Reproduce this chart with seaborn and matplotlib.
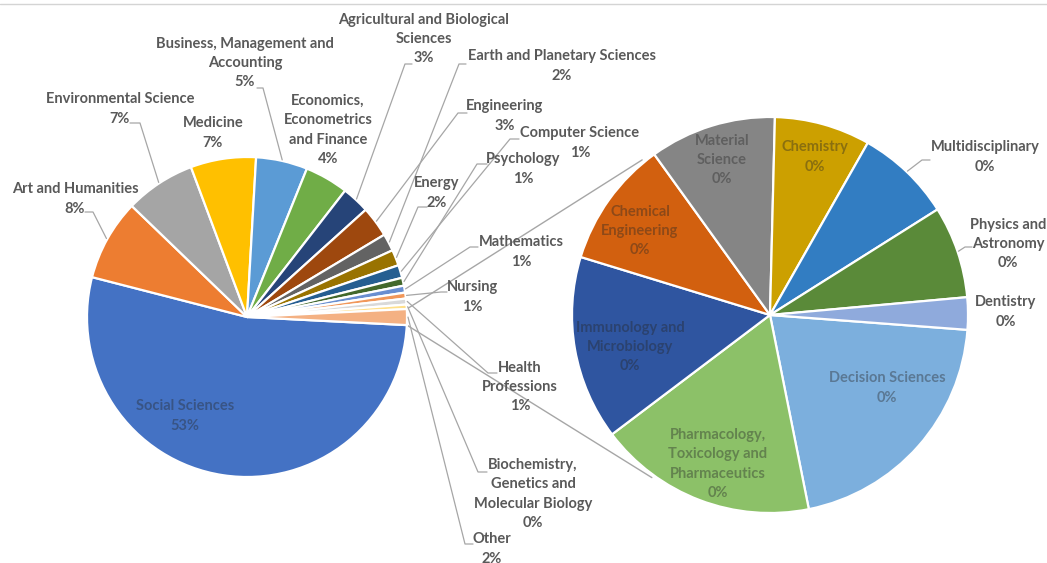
import numpy as np
import matplotlib
matplotlib.use("Agg")
import matplotlib.pyplot as plt
import seaborn as sns
from matplotlib.colors import to_rgb

# ---- data: share of documents (%) by subject area ----
primary_names = [
    "Social Sciences", "Art and Humanities", "Environmental Science", "Medicine",
    "Business, Management and Accounting", "Economics, Econometrics and Finance",
    "Agricultural and Biological Sciences", "Engineering", "Earth and Planetary Sciences",
    "Energy", "Computer Science", "Psychology", "Mathematics", "Nursing",
    "Health Professions", "Biochemistry, Genetics and Molecular Biology",
]
primary_share = [53.2, 8.2, 7.1, 6.6, 5.2, 4.4, 2.8, 3.1, 1.75, 1.6, 1.3, 0.8,
                 0.7, 0.6, 0.6, 0.45]

secondary_names = [
    "Decision Sciences", "Pharmacology, Toxicology and Pharmaceutics",
    "Immunology and Microbiology", "Chemical Engineering", "Material Science",
    "Chemistry", "Multidisciplinary", "Physics and Astronomy", "Dentistry",
]
secondary_share = [0.33, 0.285, 0.24, 0.165, 0.165, 0.125, 0.125, 0.12, 0.042]

other_name = "Other"
other_share = sum(secondary_share)

primary_colors = ["#4472C4", "#ED7D31", "#A5A5A5", "#FFC000", "#5B9BD5", "#70AD47",
                  "#264478", "#9E480E", "#636363", "#997300", "#255E91", "#43682B",
                  "#698ED0", "#F1975A", "#D9D9D9", "#FFE08A"]
other_color = "#F4B183"
secondary_colors = ["#7CAFDD", "#8CC168", "#2F55A0", "#D2600F", "#858585",
                    "#CCA000", "#327DC2", "#5A8A39", "#8FAADC"]

# display wrapping of the category names
wrapped = {
    "Business, Management and Accounting": "Business, Management and\nAccounting",
    "Economics, Econometrics and Finance": "Economics,\nEconometrics\nand Finance",
    "Agricultural and Biological Sciences": "Agricultural and Biological\nSciences",
    "Health Professions": "Health\nProfessions",
    "Biochemistry, Genetics and Molecular Biology": "Biochemistry,\nGenetics and\nMolecular Biology",
    "Pharmacology, Toxicology and Pharmaceutics": "Pharmacology,\nToxicology and\nPharmaceutics",
    "Immunology and Microbiology": "Immunology and\nMicrobiology",
    "Chemical Engineering": "Chemical\nEngineering",
    "Material Science": "Material\nScience",
    "Physics and Astronomy": "Physics and\nAstronomy",
}

# ---- layout (pixel coordinates, y measured from the top) ----
W, H = 1047, 563
C1, R1, START1 = (247, 317), 160, -2.9
C2, R2, START2 = (770, 315), 198, -4.3

# label centre, leader tick (x joined to line, x at text, y) or None, inside?
label_pos = {
    "Social Sciences": ((185, 416), None, True),
    "Art and Humanities": ((75, 199), (93, 85, 212), False),
    "Environmental Science": ((120, 109), (140, 130, 123), False),
    "Medicine": ((213, 133), None, False),
    "Business, Management and Accounting": ((245, 63), (263, 257, 88), False),
    "Economics, Econometrics and Finance": ((328, 130), None, False),
    "Agricultural and Biological Sciences": ((424, 39), (405, 412, 64), False),
    "Engineering": ((505, 116), (458, 467, 113), False),
    "Earth and Planetary Sciences": ((562, 66), (459, 466, 64), False),
    "Energy": ((437, 193), (418, 427, 207), False),
    "Computer Science": ((580, 143), (510, 519, 139), False),
    "Psychology": ((523, 169), (477, 487, 164), False),
    "Mathematics": ((521, 252), (470, 478, 247), False),
    "Nursing": ((472, 297), (441, 447, 292), False),
    "Health Professions": ((520, 387), (488, 497, 373), False),
    "Biochemistry, Genetics and Molecular Biology": ((533, 494), (478, 487, 472), False),
    "Other": ((492, 549), (465, 473, 544), False),
    "Decision Sciences": ((887, 388), None, True),
    "Pharmacology, Toxicology and Pharmaceutics": ((718, 464), None, True),
    "Immunology and Microbiology": ((630, 347), None, True),
    "Chemical Engineering": ((640, 231), None, True),
    "Material Science": ((722, 160), None, True),
    "Chemistry": ((815, 157), None, True),
    "Multidisciplinary": ((985, 157), (922, 930, 160), False),
    "Physics and Astronomy": ((1008, 244), (965, 972, 247), False),
    "Dentistry": ((1006, 312), None, False),
}

TEXT = "#595959"
LINE = "#A6A6A6"

sns.set_theme(style="white")
plt.rcParams["font.family"] = ["Lato", "DejaVu Sans"]

fig = plt.figure(figsize=(W / 100, H / 100), dpi=100)
ax = fig.add_axes([0, 0, 1, 1])


def fy(y):
    return H - y


def polar(c, r, ang):
    a = np.deg2rad(ang)
    return c[0] + r * np.cos(a), fy(c[1]) + r * np.sin(a)


def mix(c, k=0.6, base="#262626"):
    a, b = np.array(to_rgb(c)), np.array(to_rgb(base))
    return tuple(k * a + (1 - k) * b)


total = sum(primary_share) + other_share
pie1_vals = primary_share + [other_share]
pie1_names = primary_names + [other_name]
pie1_cols = sns.color_palette(primary_colors + [other_color])
pie2_cols = sns.color_palette(secondary_colors)

wprops = dict(edgecolor="white", linewidth=1.6)
ax.pie(pie1_vals, center=(C1[0], fy(C1[1])), radius=R1, startangle=START1,
       counterclock=False, colors=pie1_cols, wedgeprops=wprops, normalize=True)
ax.pie(secondary_share, center=(C2[0], fy(C2[1])), radius=R2, startangle=START2,
       counterclock=False, colors=pie2_cols, wedgeprops=wprops, normalize=True)


def mid_angles(vals, start):
    vals = np.asarray(vals, float)
    cum = np.concatenate([[0], np.cumsum(vals)])[:-1]
    s = vals.sum()
    return start - 360 * (cum + vals / 2) / s, start - 360 * cum / s, start - 360 * (cum + vals) / s


mids1, st1, en1 = mid_angles(pie1_vals, START1)
mids2, _, _ = mid_angles(secondary_share, START2)

# series lines joining the "Other" slice to the secondary pie
o_top, o_bot = st1[-1] + 360, en1[-1] + 360
for a1, a2 in [(o_top, 129.5), (o_bot, -126.0)]:
    p = polar(C1, R1, a1)
    q = polar(C2, R2 + 3, a2)
    ax.plot([p[0], q[0]], [p[1], q[1]], color=LINE, lw=1.0, zorder=0.5)


def put_label(name, pct, mid, centre, radius, wedge_col):
    (lx, ly), tick, inside = label_pos[name]
    text = f"{wrapped.get(name, name)}\n{pct}%"
    col = mix(wedge_col) if inside else TEXT
    ax.text(lx, fy(ly), text, ha="center", va="center", fontsize=10.5,
            fontweight="bold", color=col, linespacing=1.47, zorder=5)
    if tick is not None:
        xa, xb, ty = tick
        p = polar(centre, radius + 1, mid)
        ax.plot([p[0], xa, xb], [p[1], fy(ty), fy(ty)], color=LINE, lw=0.9, zorder=4)


for name, v, m, c in zip(pie1_names, pie1_vals, mids1, pie1_cols):
    put_label(name, int(round(v / total * 100)), m, C1, R1, c)
for name, v, m, c in zip(secondary_names, secondary_share, mids2, pie2_cols):
    put_label(name, int(round(v / total * 100)), m, C2, R2, c)

# thin rule along the top edge
ax.plot([0, W], [fy(3.5), fy(3.5)], color="#D4D4D4", lw=1.0)

ax.set_xlim(0, W)
ax.set_ylim(0, H)
ax.set_aspect("equal")
ax.set_axis_off()
fig.savefig("out.png", dpi=100, facecolor="white")
